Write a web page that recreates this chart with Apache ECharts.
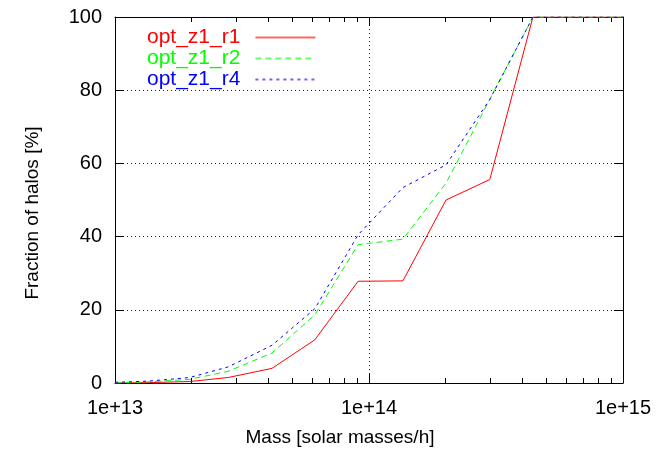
<!DOCTYPE html>
<html>
<head>
<meta charset="utf-8">
<script src="https://cdn.jsdelivr.net/npm/echarts@6/dist/echarts.min.js"></script>
<style>
html,body{margin:0;padding:0;background:#fff;}
#chart{width:658px;height:452px;}
</style>
</head>
<body>
<div id="chart"></div>
<script>
// Data
var massBins = [1e13, 1.35e13, 1.97e13, 2.79e13, 4.15e13, 6.12e13, 9.06e13, 1.36e14, 2.01e14, 2.99e14, 4.42e14, 6.59e14, 1e15];
var optZ1R1 = [0, 0.1, 0.4, 1.5, 4.0, 11.8, 27.8, 27.9, 50.0, 55.6, 100, 100, 100];
var optZ1R2 = [0, 0.3, 1.0, 3.2, 8.2, 18.6, 37.8, 39.3, 54.6, 77.5, 100, 100, 100];
var optZ1R4 = [0.2, 0.5, 1.5, 4.4, 10.3, 20.3, 40.5, 53.4, 59.6, 77.5, 100, 100, 100];
var seriesNames = ['opt_z1_r1', 'opt_z1_r2', 'opt_z1_r4'];
var seriesColors = ['#ff0000', '#00ff00', '#0000ff'];
var seriesDash = ['solid', [6, 4], [3, 4]];
var yTicks = [0, 20, 40, 60, 80, 100];
var xDecades = [13, 14, 15];            // major tick exponents: 1e+13 .. 1e+15
var xMinorMultipliers = [2, 3, 4, 5, 6, 7, 8, 9];

// minor tick positions, in log10(mass) units
var xMinorLog = [];
xDecades.slice(0, -1).forEach(function (d) {
  xMinorMultipliers.forEach(function (k) { xMinorLog.push(Math.log10(k) + d); });
});

var FONT = 'Liberation Sans, Arial, Helvetica, sans-serif';
var FS_TICK = 20;
var FS_NAME = 19;
var FS_LEG = 21;

function pairs(ys) {
  return massBins.map(function (m, i) { return [m, ys[i]]; });
}
var allData = [optZ1R1, optZ1R2, optZ1R4];

var gridLine = { show: true, lineStyle: { color: '#222', width: 1, type: [1, 3] } };
var blackLine = { show: true, lineStyle: { color: '#000', width: 1 } };

// decoration axes (ticks only), in log10 units
function tickAxis(pos, major) {
  var ax = {
    type: 'value', min: xDecades[0], max: xDecades[xDecades.length - 1], position: pos,
    axisLine: major ? blackLine : { show: false },
    axisTick: { show: true, inside: true, length: major ? 9 : 5, lineStyle: { color: '#000', width: 1 } },
    axisLabel: { show: false },
    splitLine: { show: false }
  };
  if (major) { ax.interval = 1; }
  else { ax.axisTick.customValues = xMinorLog; }
  return ax;
}

var option = {
  animation: false,
  backgroundColor: '#fff',
  grid: { left: 115, right: 35, top: 17, bottom: 69, containLabel: false },
  legend: {
    orient: 'vertical',
    left: 147, top: 27,
    align: 'right',
    itemWidth: 60, itemHeight: 14, itemGap: 0,
    padding: 0,
    textStyle: { fontFamily: FONT, fontSize: FS_LEG, lineHeight: 21, padding: [0, 10, 0, 0] },
    data: seriesNames.map(function (n, i) {
      return {
        name: n,
        textStyle: { color: seriesColors[i] },
        itemStyle: { color: 'rgba(255,255,255,0)', borderColor: 'rgba(255,255,255,0)', borderWidth: 0 },
        lineStyle: { color: seriesColors[i], width: 2, opacity: 0.6, type: seriesDash[i] }
      };
    })
  },
  xAxis: [
    {
      type: 'log', logBase: 10,
      min: Math.pow(10, xDecades[0]), max: Math.pow(10, xDecades[xDecades.length - 1]),
      interval: 1, position: 'bottom',
      name: 'Mass [solar masses/h]', nameLocation: 'middle', nameGap: 45,
      nameTextStyle: { color: '#000', fontFamily: FONT, fontSize: FS_NAME, padding: [0, 58, 0, 0] },
      axisLine: blackLine,
      axisTick: { show: true, inside: true, length: 9, lineStyle: { color: '#000', width: 1 } },
      axisLabel: {
        show: true, margin: 15, color: '#000', fontFamily: FONT, fontSize: FS_TICK,
        showMinLabel: true, showMaxLabel: true,
        formatter: function (v) { return '1e+' + Math.round(Math.log10(v)); }
      },
      splitLine: gridLine,
      minorTick: { show: false }, minorSplitLine: { show: false }
    },
    tickAxis('bottom', false),
    tickAxis('top', true),
    tickAxis('top', false)
  ],
  yAxis: [
    {
      type: 'value', min: yTicks[0], max: yTicks[yTicks.length - 1], interval: 20, position: 'left',
      name: 'Fraction of halos [%]', nameLocation: 'middle', nameGap: 73,
      nameTextStyle: { color: '#000', fontFamily: FONT, fontSize: FS_NAME, padding: [0, 26, 0, 0] },
      axisLine: blackLine,
      axisTick: { show: true, inside: true, length: 9, lineStyle: { color: '#000' } },
      axisLabel: { show: true, margin: 13, color: '#000', fontFamily: FONT, fontSize: FS_TICK },
      splitLine: gridLine
    },
    {
      type: 'value', min: yTicks[0], max: yTicks[yTicks.length - 1], interval: 20, position: 'right',
      axisLine: blackLine,
      axisTick: { show: true, inside: true, length: 9, lineStyle: { color: '#000' } },
      axisLabel: { show: false },
      splitLine: { show: false }
    }
  ],
  series: seriesNames.map(function (n, i) {
    return {
      name: n, type: 'line', xAxisIndex: 0, yAxisIndex: 0,
      data: pairs(allData[i]),
      symbol: 'circle', showSymbol: false, clip: true,
      color: seriesColors[i],
      lineStyle: { color: seriesColors[i], width: 1, type: seriesDash[i] },
      emphasis: { disabled: true }
    };
  })
};

var chart = echarts.init(document.getElementById('chart'), null, { renderer: 'canvas' });
chart.setOption(option);
</script>
</body>
</html>
